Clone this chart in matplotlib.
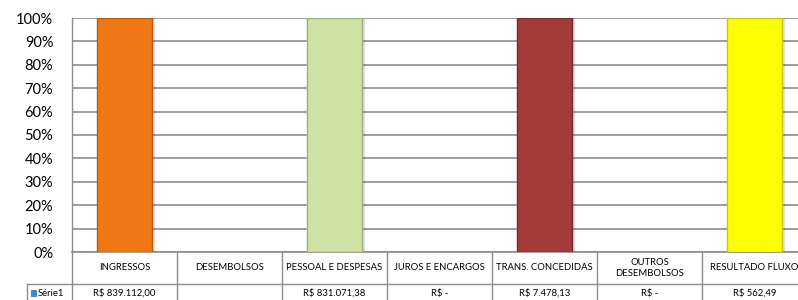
import matplotlib
matplotlib.use("Agg")
import matplotlib.pyplot as plt
from matplotlib.transforms import blended_transform_factory
from matplotlib.patches import Rectangle

categories = ["INGRESSOS", "DESEMBOLSOS", "PESSOAL E DESPESAS", "JUROS E ENCARGOS",
              "TRANS. CONCEDIDAS", "OUTROS\nDESEMBOLSOS", "RESULTADO FLUXO"]
values = [839112.00, None, 831071.38, 0.0, 7478.13, 0.0, 562.49]
value_labels = ["R$ 839.112,00", "", "R$ 831.071,38", "R$ -", "R$ 7.478,13", "R$ -", "R$ 562,49"]
bar_colors = ["#F07814", "#FFFFFF", "#D0E3A5", "#FFFFFF", "#A33B3B", "#FFFFFF", "#FFFF00"]
edge_colors = ["#B85A0C", "#FFFFFF", "#9EB07A", "#FFFFFF", "#7A2A2A", "#FFFFFF", "#C8C800"]
series_name = "Série1"
yticks = [0, 10, 20, 30, 40, 50, 60, 70, 80, 90, 100]
ytick_labels = [f"{t}%" for t in yticks]

# 100% stacked single series: each non-zero value fills its column
percent = [100.0 if (v is not None and v > 0) else 0.0 for v in values]

plt.rcParams['font.family'] = ['Lato', 'DejaVu Sans']

W, H = 798, 300
fig = plt.figure(figsize=(W / 100, H / 100), dpi=100)
left, right, top, bottom = 72, 807, 18, 252
ax = fig.add_axes([left / W, 1 - bottom / H, (right - left) / W, (bottom - top) / H])

x = list(range(len(categories)))
for xi, p, c, ec in zip(x, percent, bar_colors, edge_colors):
    if p > 0:
        ax.bar(xi + 0.03, p, width=0.52, color="#000000", alpha=0.12, zorder=2, linewidth=0)
        ax.bar(xi, p, width=0.52, color=c, edgecolor=ec, linewidth=1.0, zorder=3)

ax.set_xlim(-0.5, len(categories) - 0.5)
ax.set_ylim(0, 100)
ax.set_yticks(yticks)
ax.set_yticklabels(ytick_labels, fontsize=10.5, color="#000000")
ax.tick_params(axis="y", length=0, pad=13.5)
ax.set_xticks([])
ax.yaxis.grid(True, color="#8C8C8C", linewidth=1.2, zorder=0)
ax.set_axisbelow(True)
for s in ["top", "right"]:
    ax.spines[s].set_visible(False)
ax.spines["left"].set_color("#8C8C8C")
ax.spines["bottom"].set_color("#8C8C8C")
ax.spines["left"].set_linewidth(1.0)
ax.spines["bottom"].set_linewidth(1.2)

# data table below the axes
ph = bottom - top
def ay(py):
    return -(py - bottom) / ph
tr = blended_transform_factory(ax.transData, ax.transAxes)
tr_fig_ax = blended_transform_factory(fig.transFigure, ax.transAxes)
gc = "#8C8C8C"
row1_bot = 284
row2_bot = 305
for b in [i - 0.5 for i in range(len(categories) + 1)]:
    ax.plot([b, b], [ay(bottom), ay(row2_bot)], transform=tr, color=gc, lw=1.0, clip_on=False)
ax.plot([-0.5, len(categories) - 0.5], [ay(row1_bot), ay(row1_bot)], transform=tr, color=gc, lw=1.0, clip_on=False)
lx0 = 27 / W
ax.plot([lx0, left / W], [ay(row1_bot), ay(row1_bot)], transform=tr_fig_ax, color=gc, lw=1.0, clip_on=False)
ax.plot([lx0, lx0], [ay(row1_bot), ay(row2_bot)], transform=tr_fig_ax, color=gc, lw=1.0, clip_on=False)

for xi, cat, lab in zip(x, categories, value_labels):
    ax.text(xi, ay(268), cat, transform=tr, ha="center", va="center", fontsize=6.8,
            linespacing=1.25, clip_on=False)
    if lab:
        ax.text(xi, ay(293.5), lab, transform=tr, ha="center", va="center", fontsize=6.8, clip_on=False)

fig.patches.append(Rectangle((31 / W, 1 - 296 / H), 5 / W, 6 / H, transform=fig.transFigure,
                             facecolor="#3A8FC8", edgecolor="#2070A8", lw=0.5))
fig.text(37.5 / W, 1 - 293.5 / H, series_name, ha="left", va="center", fontsize=6.8)

fig.savefig("out.png", dpi=100, facecolor="white")
